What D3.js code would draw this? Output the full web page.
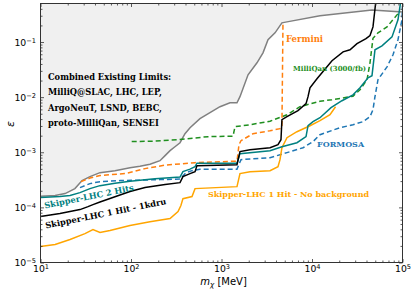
<!DOCTYPE html>
<html><head><meta charset="utf-8">
<script src="https://cdn.jsdelivr.net/npm/d3@7"></script>
<style>body{margin:0;background:#fff}svg{display:block}</style>
</head><body>
<svg id="c" width="415" height="289"></svg>
<script>
// ---- data (m_chi in MeV, epsilon) ----
const existM = [10,14.5,18.7,24.0,28.8,35.2,45.4,66.5,97.5,125.6,162,209,238,270,306,348,395,449,578,746,962,1241,1483,1600,1965,2466,2874,3266,3903,4654,5290,12250,46010,100000];
const existE = [1.60e-4,1.64e-4,1.78e-4,2.19e-4,3.06e-4,3.61e-4,4.27e-4,4.64e-4,5.26e-4,5.60e-4,6.08e-4,7.04e-4,8.68e-4,1.07e-3,1.26e-3,1.49e-3,2.17e-3,2.79e-3,4.07e-3,5.22e-3,6.70e-3,7.92e-3,7.92e-3,1.02e-2,2.55e-2,4.20e-2,6.37e-2,0.110,0.147,0.223,0.232,0.299,0.383,0.352];

const kdruM = [10,16.4,27.3,33.5,38.0,45.4,66.5,97.5,142.8,238,348,375,449,510,536,1483,1600,2066,3436,4210,4541,4654,5290,7000,8590,9040,9500,11350,16630,22040,26300,31420,39520,43740,47190,50930];
const kdruE = [6.81e-5,7.72e-5,9.12e-5,1.03e-4,1.12e-4,1.25e-4,1.56e-4,1.94e-4,2.29e-4,2.59e-4,2.81e-4,3.61e-4,4.10e-4,4.45e-4,5.72e-4,5.96e-4,1.03e-3,1.11e-3,1.21e-3,1.37e-3,1.69e-3,3.90e-3,4.42e-3,5.68e-3,7.62e-3,1.02e-2,1.48e-2,2.16e-2,4.57e-2,6.64e-2,7.22e-2,9.34e-2,0.115,0.131,0.188,0.58];

const twoHitM = [10,16.4,21.2,27.3,35.2,45.4,66.5,97.5,184,348,375,449,510,536,1483,1600,3436,4654,6820,8590,9040,10260,12250,16220,21430,28380,33900,41580,46010,49640,59290,76560,89130,96180];
const twoHitE = [1.51e-4,1.57e-4,1.64e-4,1.85e-4,2.19e-4,2.48e-4,2.75e-4,2.99e-4,3.32e-4,3.54e-4,4.45e-4,4.94e-4,5.49e-4,6.35e-4,6.35e-4,9.44e-4,1.07e-3,1.26e-3,1.49e-3,1.92e-3,3.03e-3,3.59e-3,4.24e-3,6.43e-3,8.61e-3,1.10e-2,1.48e-2,2.25e-2,2.45e-2,7.22e-2,8.53e-2,0.124,0.253,0.58];

const noBgM = [10,14.5,21.2,31.0,38.0,45.4,58.6,97.5,162,270,331,356,375,472,510,1483,1600,2066,3436,4210,4430,4654,5290,6820,9500,12250,15810,18200];
const noBgE = [1.95e-5,2.12e-5,2.61e-5,3.34e-5,3.96e-5,3.50e-5,3.82e-5,4.68e-5,5.50e-5,6.27e-5,8.39e-5,1.08e-4,1.44e-4,1.57e-4,2.19e-4,2.38e-4,4.10e-4,4.45e-4,4.64e-4,5.49e-4,7.34e-4,1.21e-3,1.84e-3,2.36e-3,3.03e-3,3.74e-3,4.80e-3,6.70e-3];

const formosaM = [27.3,35.2,45.4,75.5,125.6,209,348,405,472,578,1483,1641,3436,5290,7960,10260,12250,20380,28380,36630,43740,47190,49640,53580,67410,78540,89130,98700,100000];
const formosaE = [2.28e-4,2.70e-4,2.93e-4,3.06e-4,3.12e-4,3.19e-4,3.26e-4,4.27e-4,4.64e-4,4.94e-4,4.94e-4,7.34e-4,7.98e-4,9.84e-4,1.21e-3,1.56e-3,2.08e-3,2.79e-3,3.16e-3,3.59e-3,4.42e-3,5.91e-3,1.02e-2,2.07e-2,3.55e-2,5.86e-2,0.110,0.253,0.45];

const ferminiM = [28.0,35.2,45.4,58.6,85.9,142.8,238,510,1483,1560,1641,2229,3436,4430,4654,4780];
const ferminiE = [2.93e-4,3.40e-4,3.77e-4,3.93e-4,4.10e-4,5.05e-4,5.84e-4,6.48e-4,6.91e-4,1.37e-3,1.62e-3,2.17e-3,2.46e-3,2.68e-3,3.03e-3,0.232];

const milliqanM = [101.8,184,331,710,1340,1410,2066,3436,5290,7360,12250,16630,28380,33900,40550,43740,47190,53580,67410,86900,93760];
const milliqanE = [1.56e-3,1.59e-3,1.69e-3,1.92e-3,1.96e-3,2.91e-3,3.16e-3,3.66e-3,4.80e-3,6.70e-3,8.44e-3,8.97e-3,1.04e-2,1.36e-2,2.07e-2,4.20e-2,0.117,0.147,0.188,0.311,0.36];

const xMajor = [1e1,1e2,1e3,1e4,1e5];
const yMajor = [1e-5,1e-4,1e-3,1e-2,1e-1];
const existingLines = ["Combined Existing Limits:","MilliQ@SLAC, LHC, LEP,","ArgoNeuT, LSND, BEBC,","proto-MilliQan, SENSEI"];

// ---- drawing ----
const svg = d3.select("#c");
const x = d3.scaleLog().domain([10,1e5]).range([40.5,402.5]);
const y = d3.scaleLog().domain([1e-5,0.5]).range([262.5,3.5]);
const X0=x.range()[0], X1=x.range()[1], Y0=y.range()[0], Y1=y.range()[1];

svg.append("defs").append("clipPath").attr("id","clip").append("rect")
  .attr("x",X0).attr("y",Y1).attr("width",X1-X0).attr("height",Y0-Y1);
const plot = svg.append("g").attr("clip-path","url(#clip)");
const pts = (M,E)=>M.map((m,i)=>({m,e:E[i]}));
const line = d3.line().x(d=>x(d.m)).y(d=>y(d.e));
const area = d3.area().x(d=>x(d.m)).y0(Y1).y1(d=>y(d.e));

plot.append("path").datum(pts(existM,existE)).attr("d",area).attr("fill","#f0f0f0");
plot.append("path").datum(pts(existM,existE)).attr("d",line).attr("fill","none").attr("stroke","#808080").attr("stroke-width",1.5);

const series = [
  {M:milliqanM,E:milliqanE,c:"#1f8f1f",dash:"5,3"},
  {M:ferminiM,E:ferminiE,c:"#ff7f0e",dash:"5,3"},
  {M:formosaM,E:formosaE,c:"#1f77b4",dash:"5,3"},
  {M:noBgM,E:noBgE,c:"#ffa500",dash:null},
  {M:twoHitM,E:twoHitE,c:"#008080",dash:null},
  {M:kdruM,E:kdruE,c:"#000000",dash:null}
];
series.forEach(s=>{
  plot.append("path").datum(pts(s.M,s.E)).attr("d",line).attr("fill","none")
    .attr("stroke",s.c).attr("stroke-width",1.5).attr("stroke-dasharray",s.dash);
});

// axes
const axisColor="#333";
function minors(lo,hi){const r=[];for(let d=Math.floor(Math.log10(lo));d<=Math.ceil(Math.log10(hi));d++){for(let k=2;k<=9;k++){const v=k*Math.pow(10,d);if(v>lo&&v<hi)r.push(v);}}return r;}
const xMin=minors(10,1e5), yMin=minors(1e-5,0.5);
function supFmt(sel){
  sel.selectAll(".tick text").each(function(d){
    const t=d3.select(this); const p=Math.round(Math.log10(d));
    t.text(null);
    t.append("tspan").text("10");
    t.append("tspan").attr("dy","-0.45em").attr("font-size","6.6px").text(p<0?"\u2212"+(-p):p);
  });
}
function styleAxis(g){g.select(".domain").remove();g.selectAll(".tick line").attr("stroke",axisColor).attr("stroke-width",0.8);g.selectAll("text").attr("fill","#000").attr("font-family","DejaVu Sans").attr("font-size","9.3px");}

const gxb=svg.append("g").attr("transform",`translate(0,${Y0})`).call(d3.axisBottom(x).tickValues(xMajor).tickSize(-3.5).tickPadding(3.2));
styleAxis(gxb); supFmt(gxb);
svg.append("g").attr("transform",`translate(0,${Y0})`).call(d3.axisBottom(x).tickValues(xMin).tickSize(-2).tickFormat("")).call(styleAxis);
svg.append("g").attr("transform",`translate(0,${Y1})`).call(d3.axisTop(x).tickValues(xMajor).tickSize(-3.5).tickFormat("")).call(styleAxis);
svg.append("g").attr("transform",`translate(0,${Y1})`).call(d3.axisTop(x).tickValues(xMin).tickSize(-2).tickFormat("")).call(styleAxis);
const gyl=svg.append("g").attr("transform",`translate(${X0},0)`).call(d3.axisLeft(y).tickValues(yMajor).tickSize(-3.5).tickPadding(4.5));
styleAxis(gyl); supFmt(gyl);
svg.append("g").attr("transform",`translate(${X0},0)`).call(d3.axisLeft(y).tickValues(yMin).tickSize(-2).tickFormat("")).call(styleAxis);
svg.append("g").attr("transform",`translate(${X1},0)`).call(d3.axisRight(y).tickValues(yMajor).tickSize(-3.5).tickFormat("")).call(styleAxis);
svg.append("g").attr("transform",`translate(${X1},0)`).call(d3.axisRight(y).tickValues(yMin).tickSize(-2).tickFormat("")).call(styleAxis);

svg.append("rect").attr("x",X0).attr("y",Y1).attr("width",X1-X0).attr("height",Y0-Y1)
  .attr("fill","none").attr("stroke",axisColor).attr("stroke-width",1);

// axis labels
const xl=svg.append("text").attr("x",(X0+X1)/2+2).attr("y",284.5).attr("text-anchor","middle")
  .attr("font-family","DejaVu Sans").attr("font-size","10px");
xl.append("tspan").attr("font-style","italic").text("m");
xl.append("tspan").attr("font-style","italic").attr("font-size","7.2px").attr("dy","2").text("\u03C7");
xl.append("tspan").attr("dy","-2").text(" [MeV]");
svg.append("text").attr("transform",`translate(13.5,124) rotate(-90)`).attr("text-anchor","middle")
  .attr("font-family","DejaVu Sans").attr("font-style","italic").attr("font-size","11px").text("\u03B5");

// annotations
const ann=(t,x0,y0,c,fs,rot)=>svg.append("text").attr("transform",`translate(${x0},${y0}) rotate(${rot||0})`)
  .attr("font-family","DejaVu Serif").attr("font-weight","bold").attr("font-size",fs+"px").attr("fill",c).text(t);
existingLines.forEach((t,i)=>ann(t,48,80+i*15.3,"#000",8.3));
ann("Fermini",286,41.5,"#ff7f0e",8.5);
ann("MilliQan (3000/fb)",293,71,"#1f8f1f",7);
ann("FORMOSA",317,146.5,"#1f77b4",8);
ann("Skipper-LHC 1 Hit - No background",208,196.5,"#ffa500",8);
ann("Skipper-LHC 2 Hits",45,208.5,"#008080",8.3,-11.5);
ann("Skipper-LHC 1 Hit - 1kdru",46,228.5,"#000",8.3,-11.5);
</script>
</body></html>
